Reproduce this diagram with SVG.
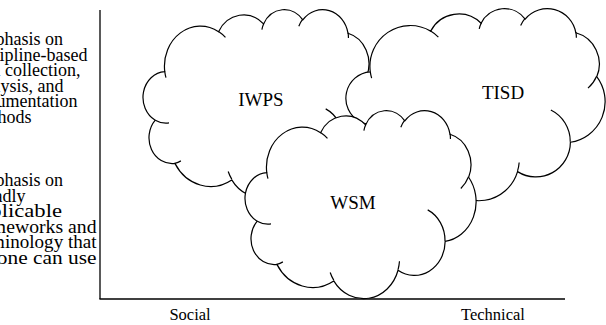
<svg xmlns="http://www.w3.org/2000/svg" xmlns:xlink="http://www.w3.org/1999/xlink" width="606" height="325" viewBox="0 0 606 325">
<style>
.lbl{font-family:"Liberation Serif","Times New Roman",serif;fill:#000}
.big{font-size:19px}
.ax{font-size:16.5px}
.side{font-size:18px}
.axis{stroke:#000;stroke-width:1.3;fill:none}
</style>
<defs>
<path id="cloudBody" fill="#fff" stroke="#000" stroke-width="1.2" vector-effect="non-scaling-stroke" d="M3900 14370 A6753 9190 0 0 1 14005 5202 A5333 7267 0 0 1 22456 3434 A4365 5945 0 0 1 29833 2481 A4857 6595 0 0 1 38318 5576 A5333 7273 0 0 1 41818 15460 A6775 9220 0 0 1 37405 30205 A5785 7867 0 0 1 28557 36816 A6752 9215 0 0 1 16482 39267 A7720 10543 0 0 1 5806 35473 A4360 5918 0 0 1 2114 25552 A4345 5945 0 0 1 3900 14370 Z"/>
<path id="cloudTails" fill="none" stroke="#000" stroke-width="1.2" vector-effect="non-scaling-stroke" d="M4693 26177 A4345 5945 0 0 1 2114 25552 M6928 34899 A4360 5918 0 0 1 5806 35473 M16478 39090 A6752 9215 0 0 1 15810 37349 M28827 34751 A6752 9215 0 0 1 28560 36660 M34129 22954 A5785 7867 0 0 1 37380 30090 M41798 15354 A5333 7273 0 0 1 40350 18030 M38324 5426 A4857 6595 0 0 1 38401 6690 M29078 3952 A4857 6595 0 0 1 29820 2340 M22141 4720 A4365 5945 0 0 1 22500 3331 M14000 5192 A6753 9190 0 0 1 15300 6541 M4127 15789 A6753 9190 0 0 1 3900 14370"/>
</defs>
<rect width="606" height="325" fill="#fff"/>
<g id="axes">
<line class="axis" x1="100" y1="10" x2="100" y2="299"/>
<line class="axis" x1="99.4" y1="299" x2="565" y2="299"/>
</g>
<g id="connectors"></g>
<g id="label-top">
<text class="lbl side" x="-29.5" y="45">Emphasis on<tspan x="-29.5" y="60.5">discipline-based</tspan><tspan x="-29.5" y="76">data collection,</tspan><tspan x="-29.5" y="91.5">analysis, and</tspan><tspan x="-29.5" y="107">documentation</tspan><tspan x="-29.5" y="122.5">methods</tspan></text>
</g>
<g id="label-bottom">
<text class="lbl side" x="-29.5" y="186">Emphasis on</text>
<text class="lbl side" x="-29.5" y="201.5">broadly</text>
<text class="lbl side" x="-31" y="217" textLength="93" lengthAdjust="spacingAndGlyphs">applicable</text>
<text class="lbl side" x="-31" y="232.5" textLength="127.5" lengthAdjust="spacingAndGlyphs">frameworks and</text>
<text class="lbl side" x="-30" y="248" textLength="126.5" lengthAdjust="spacingAndGlyphs">terminology that</text>
<text class="lbl side" x="-34" y="263.5" textLength="130.5" lengthAdjust="spacingAndGlyphs">anyone can use</text>
</g>
<g id="node-iwps">
<use xlink:href="#cloudBody" transform="translate(144 9) scale(0.0053241 0.0043519)"/>
<use xlink:href="#cloudTails" transform="translate(144 9) scale(0.0053241 0.0043519)"/>
<text class="lbl big" x="261" y="106" text-anchor="middle">IWPS</text>
</g>
<g id="node-tisd">
<use xlink:href="#cloudBody" transform="translate(347 8) scale(0.0059722 0.0044444)"/>
<use xlink:href="#cloudTails" transform="translate(347 8) scale(0.0059722 0.0044444)"/>
<text class="lbl big" x="503" y="99" text-anchor="middle">TISD</text>
</g>
<g id="node-wsm">
<use xlink:href="#cloudBody" transform="translate(246 110) scale(0.0053241 0.0043519)"/>
<use xlink:href="#cloudTails" transform="translate(246 110) scale(0.0053241 0.0043519)"/>
<text class="lbl big" x="353" y="209" text-anchor="middle">WSM</text>
</g>
<g id="axis-labels">
<text class="lbl ax" x="190" y="320" text-anchor="middle">Social</text>
<text class="lbl ax" x="493" y="320" text-anchor="middle">Technical</text>
</g>
</svg>
